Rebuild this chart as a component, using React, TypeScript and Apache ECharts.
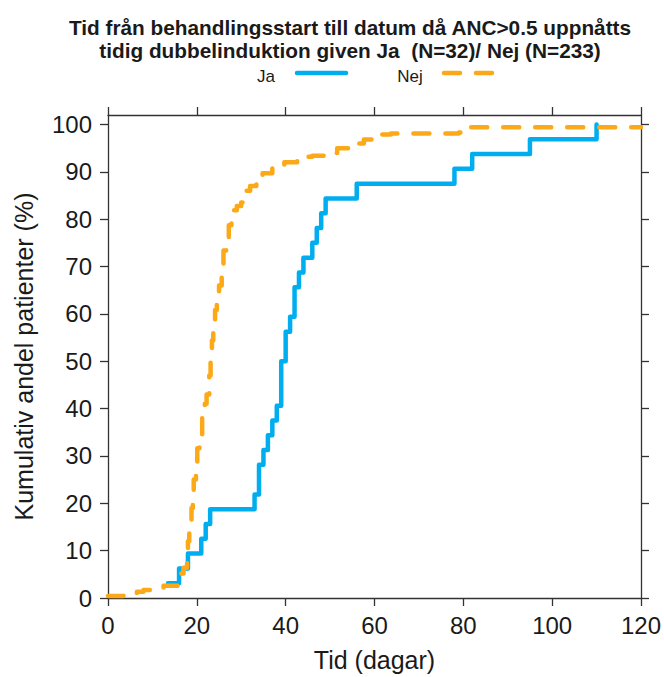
import { useEffect, useRef } from 'react'
import * as echarts from 'echarts'

// ── Data ──────────────────────────────────────────────────────────────────────
const TITLE_LINES = [
  'Tid från behandlingsstart till datum då ANC>0.5 uppnåtts',
  'tidig dubbelinduktion given Ja  (N=32)/ Nej (N=233)',
]
const SERIES_NAMES = ['Ja', 'Nej']
const X_NAME = 'Tid (dagar)'
const Y_NAME = 'Kumulativ andel patienter (%)'
const X_TICKS = [0, 20, 40, 60, 80, 100, 120]
const Y_TICKS = [0, 10, 20, 30, 40, 50, 60, 70, 80, 90, 100]

// Ja (N=32): each event adds 1/32
const JA_DAYS = [13.5, 16, 18, 21, 22, 23, 33, 34, 35, 36, 37, 38, 39, 40, 41, 42, 43, 44, 46, 47, 48, 49, 56, 78, 82, 95, 110]
const JA_PCT = [3.125, 6.25, 9.375, 12.5, 15.625, 18.75, 21.875, 28.125, 31.25, 34.375, 37.5, 40.625, 50, 56.25, 59.375, 65.625, 68.75, 71.875, 75, 78.125, 81.25, 84.375, 87.5, 90.625, 93.75, 96.875, 100]

// Nej (N=233)
const NEJ_DAYS = [0, 3.5, 6.5, 8, 9.5, 12.5, 16, 16.5, 17, 17.8, 18, 18.3, 18.8, 19.1, 19.3, 19.8, 20.1, 20.6, 21.2, 21.8, 22.2, 22.8, 23.1, 23.4, 23.7, 24.1, 24.5, 25, 25.6, 26, 26.6, 27.2, 27.8, 29, 30, 30.7, 32, 33.4, 34.8, 37, 39.7, 42.6, 46, 49, 51.6, 55.4, 57.6, 61, 63.7, 79, 79.5, 80.5, 120]
const NEJ_PCT = [0.4, 0.9, 1.3, 1.7, 2.1, 2.6, 3.4, 5.2, 6.4, 8.6, 12, 16, 19, 21, 25, 28.5, 31.6, 33.5, 39, 41, 43, 47, 51, 54.4, 57, 60.8, 63.3, 66, 69, 73.4, 75, 78.7, 81.9, 82.8, 83.5, 86, 87, 87.8, 89.7, 91.4, 92, 93.2, 93.4, 94, 95, 96, 96.8, 97.9, 98.1, 98.3, 98.7, 99.4, 99.4]

const BLUE = '#00AEEF'
const ORANGE = '#FBA919'
const INK = '#1a1a1a'
const FONT = '"Liberation Sans", Arial, sans-serif'

export default function App() {
  const ref = useRef<HTMLDivElement>(null)

  useEffect(() => {
    if (!ref.current) return
    const chart = echarts.init(ref.current, null, { renderer: 'svg' })

    const axisLine = { show: true, onZero: false, lineStyle: { color: '#333', width: 1.3 } }
    const axisTick = { show: true, inside: false, length: 8, lineStyle: { color: '#333', width: 1.3 } }
    const xBase = { type: 'value' as const, min: 0, max: 120, interval: 20, splitLine: { show: false }, axisLine, axisTick }
    const yBase = {
      type: 'value' as const, min: 0, max: 102, splitLine: { show: false }, axisLine,
      axisTick: { ...axisTick, customValues: Y_TICKS },
    }

    chart.setOption({
      animation: false,
      backgroundColor: '#fff',
      textStyle: { fontFamily: FONT },
      grid: { left: 108, right: 21, top: 115, bottom: 79 },
      xAxis: [
        {
          ...xBase,
          position: 'bottom',
          name: X_NAME,
          nameLocation: 'middle',
          nameGap: 49,
          nameTextStyle: { fontSize: 25, color: INK, fontFamily: FONT },
          axisLabel: { fontSize: 24, color: INK, margin: 15, fontFamily: FONT, customValues: X_TICKS },
        },
        { ...xBase, position: 'top', axisLabel: { show: false } },
      ],
      yAxis: [
        {
          ...yBase,
          position: 'left',
          name: Y_NAME,
          nameLocation: 'middle',
          nameGap: 72,
          nameTextStyle: { fontSize: 25, color: INK, fontFamily: FONT },
          axisLabel: { fontSize: 24, color: INK, margin: 16, fontFamily: FONT, customValues: Y_TICKS },
        },
        { ...yBase, position: 'right', axisLabel: { show: false } },
      ],
      series: [
        {
          name: SERIES_NAMES[0],
          type: 'line',
          step: 'end',
          showSymbol: false,
          lineStyle: { color: BLUE, width: 4.5, cap: 'round', join: 'round' },
          data: JA_DAYS.map((d, i) => [d, JA_PCT[i]]),
        },
        {
          name: SERIES_NAMES[1],
          type: 'line',
          step: 'end',
          showSymbol: false,
          lineStyle: { color: ORANGE, width: 4.5, type: [16, 16], cap: 'round', join: 'round' },
          data: NEJ_DAYS.map((d, i) => [d, NEJ_PCT[i]]),
        },
      ],
      graphic: [
        ...TITLE_LINES.map((t, i) => ({
          type: 'text',
          x: 350,
          y: 27 + i * 23,
          style: {
            text: t, fill: INK, font: `bold 20.8px ${FONT}`,
            textAlign: 'center', textVerticalAlign: 'middle',
          },
        })),
        // legend
        { type: 'text', x: 266, y: 76, style: { text: SERIES_NAMES[0], fill: INK, font: `17px ${FONT}`, textAlign: 'center', textVerticalAlign: 'middle' } },
        { type: 'line', shape: { x1: 297, y1: 73, x2: 346, y2: 73 }, style: { stroke: BLUE, lineWidth: 4.5, lineCap: 'round' } },
        { type: 'text', x: 410, y: 76, style: { text: SERIES_NAMES[1], fill: INK, font: `17px ${FONT}`, textAlign: 'center', textVerticalAlign: 'middle' } },
        { type: 'line', shape: { x1: 444, y1: 73, x2: 493, y2: 73 }, style: { stroke: ORANGE, lineWidth: 4.5, lineCap: 'round', lineDash: [16, 16] } },
      ],
    })

    return () => chart.dispose()
  }, [])

  return <div ref={ref} style={{ position: 'absolute', left: 0, top: 0, width: 664, height: 677 }} />
}
